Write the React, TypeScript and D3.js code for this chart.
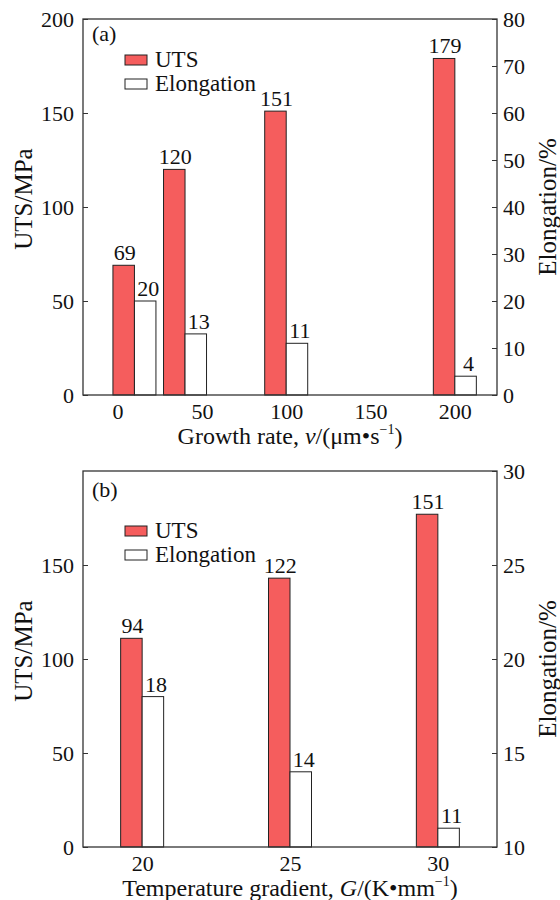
import * as d3 from "d3";
import { useEffect, useRef } from "react";

// panel (a): growth rate series
const growthRates = [10, 40, 100, 200];
const utsA = [69, 120, 151, 179];
const elongA = [20, 13, 11, 4];

// panel (b): temperature gradient series
const gradients = [20, 25, 30];
const utsB = [94, 122, 151]; // printed labels
const utsBarB = [111, 143, 177]; // bar heights as drawn in the figure
const elongB = [18, 14, 11];

const xTicksA = [0, 50, 100, 150, 200];
const utsTicksA = [0, 50, 100, 150, 200];
const elongTicksA = [0, 10, 20, 30, 40, 50, 60, 70, 80];
const xTicksB = [20, 25, 30];
const utsTicksB = [0, 50, 100, 150];
const elongTicksB = [10, 15, 20, 25, 30];

const seriesNames = ["UTS", "Elongation"];

const FONT = "Liberation Serif, Times New Roman, Times, DejaVu Serif, serif";
const RED = "#f55d5d";
const BAR = 21.5;

function drawPanel(svg, p) {
    const left = 83;
    const right = 497;

    const x = d3.scaleLinear().domain(p.xDomain).range([left, right]);
    const yL = d3.scaleLinear().domain(p.utsDomain).range([p.bottom, p.top]);
    const yR = d3.scaleLinear().domain(p.elongDomain).range([p.bottom, p.top]);

    const rows = p.xs.map((v, i) => ({
        v,
        uts: p.utsBar[i],
        utsLabel: p.utsLabel[i],
        elong: p.elong[i],
    }));

    const g = svg.append("g").style("font-family", FONT);

    // UTS bars (left of the category)
    g.selectAll(".uts")
        .data(rows)
        .enter()
        .append("rect")
        .attr("x", (d) => x(d.v) - BAR)
        .attr("y", (d) => yL(d.uts))
        .attr("width", BAR)
        .attr("height", (d) => yL(p.utsDomain[0]) - yL(d.uts))
        .attr("fill", RED)
        .attr("stroke", "#222")
        .attr("stroke-width", 1);

    // Elongation bars (right of the category)
    g.selectAll(".elong")
        .data(rows)
        .enter()
        .append("rect")
        .attr("x", (d) => x(d.v))
        .attr("y", (d) => yR(d.elong))
        .attr("width", BAR)
        .attr("height", (d) => yR(p.elongDomain[0]) - yR(d.elong))
        .attr("fill", "#fff")
        .attr("stroke", "#222")
        .attr("stroke-width", 1);

    // value labels
    g.selectAll(".utsLab")
        .data(rows)
        .enter()
        .append("text")
        .attr("x", (d) => x(d.v) - BAR / 2 + 1)
        .attr("y", (d) => yL(d.uts) - 5)
        .attr("text-anchor", "middle")
        .style("font-size", "22px")
        .style("font-family", FONT)
        .attr("fill", "#111")
        .text((d) => d.utsLabel);

    g.selectAll(".elongLab")
        .data(rows)
        .enter()
        .append("text")
        .attr("x", (d) => x(d.v) + BAR / 2 + 3)
        .attr("y", (d) => yR(d.elong) - 5)
        .attr("text-anchor", "middle")
        .style("font-size", "22px")
        .style("font-family", FONT)
        .attr("fill", "#111")
        .text((d) => d.elong);

    // frame
    g.append("rect")
        .attr("x", left)
        .attr("y", p.top)
        .attr("width", right - left)
        .attr("height", p.bottom - p.top)
        .attr("fill", "none")
        .attr("stroke", "#333")
        .attr("stroke-width", 1.3);

    const styleAxis = (s) => {
        s.select(".domain").remove();
        s.attr("font-size", null).attr("font-family", null).attr("color", "#333");
        s.selectAll("text")
            .attr("fill", "#111")
            .style("font-size", "22px")
            .style("font-family", FONT);
    };

    g.append("g")
        .attr("transform", `translate(${left},0)`)
        .call(d3.axisLeft(yL).tickValues(p.utsTicks).tickSize(-5).tickSizeOuter(0).tickPadding(9))
        .call(styleAxis);

    g.append("g")
        .attr("transform", `translate(${right},0)`)
        .call(d3.axisRight(yR).tickValues(p.elongTicks).tickSize(-5).tickSizeOuter(0).tickPadding(6))
        .call(styleAxis);

    g.append("g")
        .attr("transform", `translate(0,${p.bottom})`)
        .call(d3.axisBottom(x).tickValues(p.xTicks).tickSize(0).tickSizeOuter(0).tickPadding(8))
        .call(styleAxis);

    // panel letter
    g.append("text")
        .attr("x", 92)
        .attr("y", p.top + p.letterDy)
        .style("font-size", "22px")
        .style("font-family", FONT)
        .attr("fill", "#111")
        .text(p.letter);

    // legend
    const leg = g.append("g").attr("transform", `translate(125,${p.top + p.legendDy})`);
    seriesNames.forEach((name, i) => {
        leg.append("rect")
            .attr("x", 0)
            .attr("y", i * 24)
            .attr("width", 22)
            .attr("height", 10)
            .attr("fill", i === 0 ? RED : "#fff")
            .attr("stroke", "#222")
            .attr("stroke-width", 1);
        leg.append("text")
            .attr("x", 30)
            .attr("y", i * 24 + 12)
            .style("font-size", "23px")
            .style("font-family", FONT)
            .attr("fill", "#111")
            .text(name);
    });

    // axis titles
    const mid = (p.top + p.bottom) / 2;
    g.append("text")
        .attr("transform", `translate(32,${mid - 8}) rotate(-90)`)
        .attr("text-anchor", "middle")
        .style("font-size", "25px")
        .style("font-family", FONT)
        .attr("fill", "#111")
        .text("UTS/MPa");

    g.append("text")
        .attr("transform", `translate(556,${mid + p.rightTitleDy}) rotate(-90)`)
        .attr("text-anchor", "middle")
        .style("font-size", "25px")
        .style("font-family", FONT)
        .attr("fill", "#111")
        .text("Elongation/%");

    const xt = g.append("text")
        .attr("x", (left + right) / 2)
        .attr("y", p.bottom + 49)
        .attr("text-anchor", "middle")
        .style("font-size", "24px")
        .style("font-family", FONT)
        .attr("fill", "#111");
    xt.append("tspan").text(p.xTitle[0]);
    xt.append("tspan").style("font-style", "italic").text(p.xTitle[1]);
    xt.append("tspan").text(p.xTitle[2]);
    xt.append("tspan").style("font-size", "14px").attr("dy", -10).text("\u22121");
    xt.append("tspan").attr("dy", 10).text(")");
}

export default function App() {
    const ref = useRef(null);

    useEffect(() => {
        const svg = d3.select(ref.current);
        svg.selectAll("*").remove();

        drawPanel(svg, {
            top: 19,
            bottom: 395,
            xDomain: [-20.5, 225],
            utsDomain: [0, 200],
            elongDomain: [0, 80],
            xs: growthRates,
            utsBar: utsA,
            utsLabel: utsA,
            elong: elongA,
            xTicks: xTicksA,
            utsTicks: utsTicksA,
            elongTicks: elongTicksA,
            letter: "(a)",
            letterDy: 22,
            legendDy: 36,
            rightTitleDy: 0,
            xTitle: ["Growth rate, ", "v", "/(\u03bcm\u2022s"],
        });

        drawPanel(svg, {
            top: 471,
            bottom: 847,
            xDomain: [18, 32],
            utsDomain: [0, 200],
            elongDomain: [10, 30],
            xs: gradients,
            utsBar: utsBarB,
            utsLabel: utsB,
            elong: elongB,
            xTicks: xTicksB,
            utsTicks: utsTicksB,
            elongTicks: elongTicksB,
            letter: "(b)",
            letterDy: 26,
            legendDy: 55,
            rightTitleDy: 10,
            xTitle: ["Temperature gradient, ", "G", "/(K\u2022mm"],
        });
    }, []);

    return (
        <svg
            ref={ref}
            width={560}
            height={900}
            style={{ position: "absolute", left: 0, top: 0, background: "#fff" }}
        ></svg>
    );
}
